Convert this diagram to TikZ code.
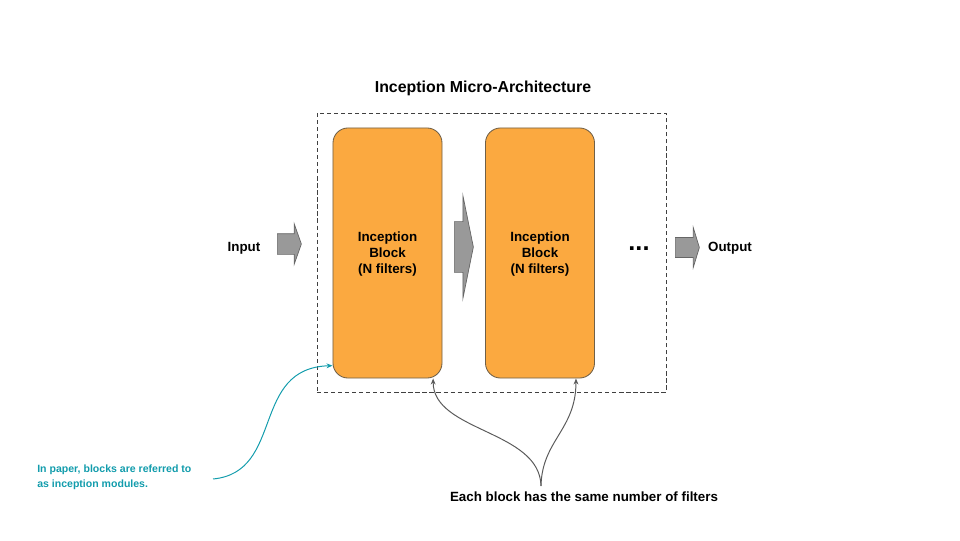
\documentclass[tikz,border=0pt]{standalone}
\usepackage{fontspec}
\setmainfont{Liberation Sans}
\usetikzlibrary{arrows.meta,shapes.arrows}

\definecolor{blockorange}{RGB}{251,169,64}
\definecolor{blockedge}{RGB}{112,96,72}
\definecolor{arrowgray}{RGB}{153,153,153}
\definecolor{arrowedge}{RGB}{102,102,102}
\definecolor{noteteal}{RGB}{18,156,172}
\definecolor{linkgray}{RGB}{90,90,90}

\begin{document}
\begin{tikzpicture}[
    x=0.025cm, y=-0.025cm,
    every node/.style={align=center, inner sep=0pt, font=\bfseries\fontsize{9.5}{11.4}\selectfont},
    block/.style={rectangle, rounded corners=0.375cm, draw=blockedge, line width=0.6pt, fill=blockorange, minimum width=2.725cm, minimum height=6.25cm, text depth=-5pt},
    frame/.style={rectangle, draw=black!75, line width=0.5pt, dash pattern=on 3pt off 2pt, minimum width=8.725cm, minimum height=6.975cm},
    flowArrow/.style={single arrow, draw=arrowedge, fill=arrowgray, line width=0.5pt, inner xsep=0pt, anchor=tail},
    noteLink/.style={draw=noteteal, line width=0.7pt, -{Stealth[length=0.15cm, width=0.12cm]}},
    blockLink/.style={draw=linkgray, line width=0.7pt, -{Stealth[length=0.15cm, width=0.12cm]}}
]
\useasboundingbox (0,0) rectangle (960,540);

% Nodes
\node[font=\bfseries\fontsize{11.3}{13.5}\selectfont] (title) at (483, 88) {Inception Micro-Architecture};
\node[frame] (frame) at (491.5, 252.5) {};
\node[block] (b1) at (387.5, 253) {Inception\\Block\\(N filters)};
\node[block] (b2) at (540, 253) {Inception\\Block\\(N filters)};
\node (input) at (244, 248) {Input};
\node (output) at (730, 248) {Output};
\node[font=\bfseries\fontsize{18}{20}\selectfont] (dots) at (639, 249) {...};
\node[flowArrow, minimum height=0.6cm, inner ysep=0.25cm, single arrow head extend=0.25cm, single arrow tip angle=141] (inArrow) at (277, 244) {};
\node[flowArrow, minimum height=0.475cm, inner ysep=0.625cm, single arrow head extend=0.65cm, single arrow tip angle=157] (midArrow) at (454, 247) {};
\node[flowArrow, minimum height=0.6cm, inner ysep=0.24cm, single arrow head extend=0.25cm, single arrow tip angle=146] (outArrow) at (675, 247.5) {};
\node[anchor=west, align=left, text=noteteal, font=\bfseries\fontsize{7.5}{10.7}\selectfont] (note) at (37, 477) {In paper, blocks are referred to\\as inception modules.};
\node (same) at (584, 497) {Each block has the same number of filters};
\coordinate (noteEnd) at (213, 479);
\coordinate (split) at (541, 486);

% Arrows
\draw[noteLink] (noteEnd) .. controls (285, 472) and (250, 368) .. (b1.244);
\draw[blockLink] (split) .. controls (540, 430) and (433, 432) .. (b1.-70);
\draw[blockLink] (split) .. controls (542, 440) and (576, 430) .. (b2.-74);

\end{tikzpicture}
\end{document}
